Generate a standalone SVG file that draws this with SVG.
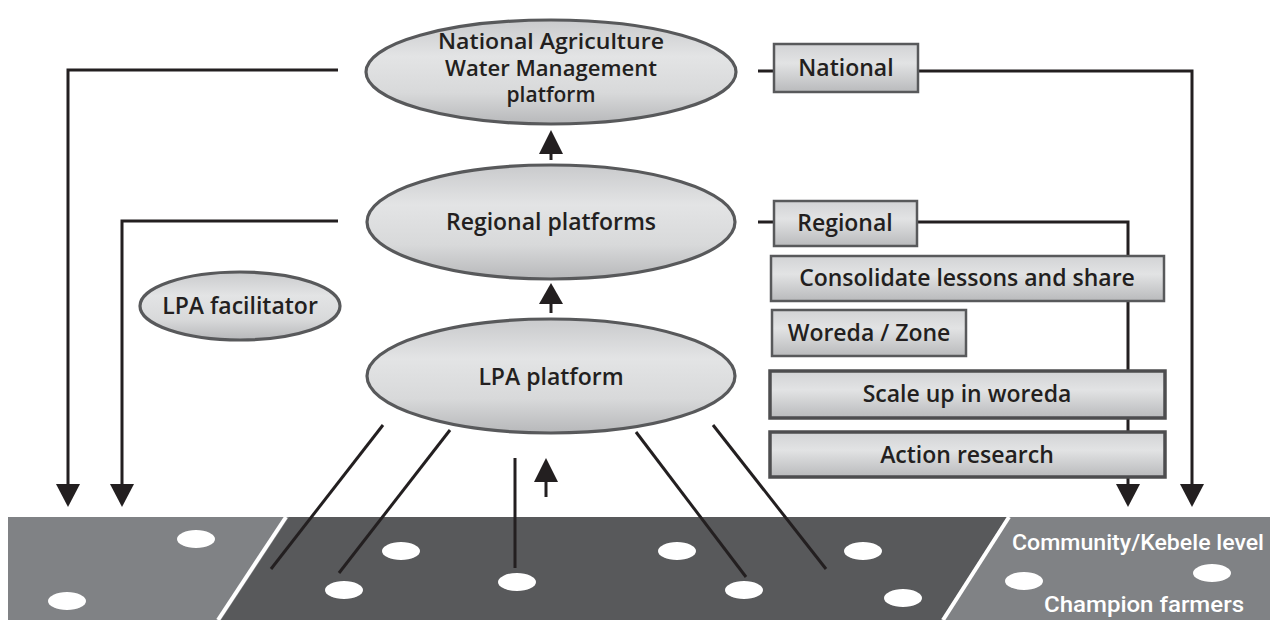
<svg xmlns="http://www.w3.org/2000/svg" width="1270" height="620" viewBox="0 0 1270 620">
<defs>
<linearGradient id="eg" x1="0" y1="0" x2="0" y2="1">
<stop offset="0" stop-color="#c9cacc"/>
<stop offset="0.35" stop-color="#e3e4e5"/>
<stop offset="0.7" stop-color="#d8d9da"/>
<stop offset="1" stop-color="#b7b8ba"/>
</linearGradient>
<linearGradient id="bg" x1="0" y1="0" x2="0" y2="1">
<stop offset="0" stop-color="#d2d3d5"/>
<stop offset="0.4" stop-color="#e2e3e4"/>
<stop offset="1" stop-color="#b9babc"/>
</linearGradient>
<style>
.ell{fill:url(#eg);stroke:#58595b;stroke-width:3.2}
.box{fill:url(#bg);stroke:#58595b;stroke-width:2.5}
.boxb{fill:url(#bg);stroke:#4d4d4f;stroke-width:3.5}
.t{font-family:"Open Sans","Liberation Sans",sans-serif;font-weight:600;font-size:23px;fill:#231f20;text-anchor:middle}
.tn{font-family:"Open Sans","Liberation Sans",sans-serif;font-weight:600;font-size:21px;fill:#231f20;text-anchor:middle}
.w{font-family:"Roboto","Liberation Sans",sans-serif;font-weight:500;font-size:22px;fill:#ffffff;text-anchor:middle}
.ln{fill:none;stroke:#231f20;stroke-width:3}
.ah{fill:#231f20}
.dot{fill:#ffffff}
</style>
</defs>
<rect width="1270" height="620" fill="#ffffff"/>
<g id="ground">
<rect x="8" y="517" width="1262" height="103" fill="#808285"/>
<polygon points="289,517 1007,517 941,620 221,620" fill="#58595b"/>
<line x1="286" y1="517" x2="218" y2="620" stroke="#ffffff" stroke-width="4"/>
<line x1="1009" y1="517" x2="943" y2="620" stroke="#ffffff" stroke-width="4"/>
<ellipse class="dot" cx="196" cy="539" rx="19" ry="9"/>
<ellipse class="dot" cx="67" cy="601" rx="19" ry="9"/>
<ellipse class="dot" cx="401" cy="551" rx="19" ry="9"/>
<ellipse class="dot" cx="344" cy="590" rx="19" ry="9"/>
<ellipse class="dot" cx="517" cy="582" rx="19" ry="9"/>
<ellipse class="dot" cx="677" cy="551" rx="19" ry="9"/>
<ellipse class="dot" cx="744" cy="590" rx="19" ry="9"/>
<ellipse class="dot" cx="863" cy="551" rx="19" ry="9"/>
<ellipse class="dot" cx="903" cy="598" rx="19" ry="9"/>
<ellipse class="dot" cx="1024" cy="581" rx="19" ry="9"/>
<ellipse class="dot" cx="1212" cy="573" rx="19" ry="9"/>
<text class="w" x="1138" y="550" textLength="252" lengthAdjust="spacingAndGlyphs">Community/Kebele level</text>
<text class="w" x="1144" y="612" textLength="200" lengthAdjust="spacingAndGlyphs">Champion farmers</text>
</g>
<g id="connectors">
<path class="ln" d="M338,70 H68 V488"/>
<polygon class="ah" points="56,484 80,484 68,507"/>
<path class="ln" d="M338,221 H122 V488"/>
<polygon class="ah" points="110,484 134,484 122,507"/>
<path class="ln" d="M758,71 H775 M917,71 H1192 V488"/>
<polygon class="ah" points="1180,484 1204,484 1192,507"/>
<path class="ln" d="M758,222 H775 M916,222 H1128 V488"/>
<polygon class="ah" points="1116,484 1140,484 1128,507"/>
<path class="ln" d="M551,160 V150"/>
<polygon class="ah" points="539,154 563,154 551,130"/>
<path class="ln" d="M551,313 V300"/>
<polygon class="ah" points="539,304 563,304 551,283"/>
<path class="ln" d="M546,497 V478"/>
<polygon class="ah" points="534,482 558,482 546,458"/>
<line class="ln" x1="383" y1="425" x2="271" y2="569"/>
<line class="ln" x1="450" y1="430" x2="339" y2="573"/>
<line class="ln" x1="515" y1="458" x2="515" y2="568"/>
<line class="ln" x1="636" y1="432" x2="746" y2="577"/>
<line class="ln" x1="713" y1="425" x2="826" y2="569"/>
</g>
<g id="national-platform">
<ellipse class="ell" cx="551" cy="72" rx="185" ry="52"/>
<text class="tn" x="551" y="49" textLength="226" lengthAdjust="spacingAndGlyphs">National Agriculture</text>
<text class="tn" x="551" y="76" textLength="212" lengthAdjust="spacingAndGlyphs">Water Management</text>
<text class="tn" x="551" y="102">platform</text>
</g>
<g id="regional-platforms">
<ellipse class="ell" cx="551" cy="222" rx="184" ry="57"/>
<text class="t" x="551" y="230">Regional platforms</text>
</g>
<g id="lpa-platform">
<ellipse class="ell" cx="551" cy="376" rx="184" ry="57"/>
<text class="t" x="551" y="385">LPA platform</text>
</g>
<g id="lpa-facilitator">
<ellipse class="ell" cx="240" cy="306" rx="100" ry="34"/>
<text class="t" x="240" y="314">LPA facilitator</text>
</g>
<g id="national">
<rect class="box" x="774" y="44" width="144" height="48"/>
<text class="t" x="846" y="76">National</text>
</g>
<g id="regional">
<rect class="box" x="774" y="201" width="143" height="45"/>
<text class="t" x="845" y="231">Regional</text>
</g>
<g id="consolidate">
<rect class="box" x="771" y="256" width="393" height="45"/>
<text class="t" x="967" y="286">Consolidate lessons and share</text>
</g>
<g id="woreda-zone">
<rect class="box" x="772" y="310" width="194" height="46"/>
<text class="t" x="869" y="341">Woreda / Zone</text>
</g>
<g id="scale-up">
<rect class="boxb" x="770" y="371" width="395" height="47"/>
<text class="t" x="967" y="402">Scale up in woreda</text>
</g>
<g id="action-research">
<rect class="boxb" x="770" y="432" width="395" height="45"/>
<text class="t" x="967" y="463">Action research</text>
</g>
</svg>
